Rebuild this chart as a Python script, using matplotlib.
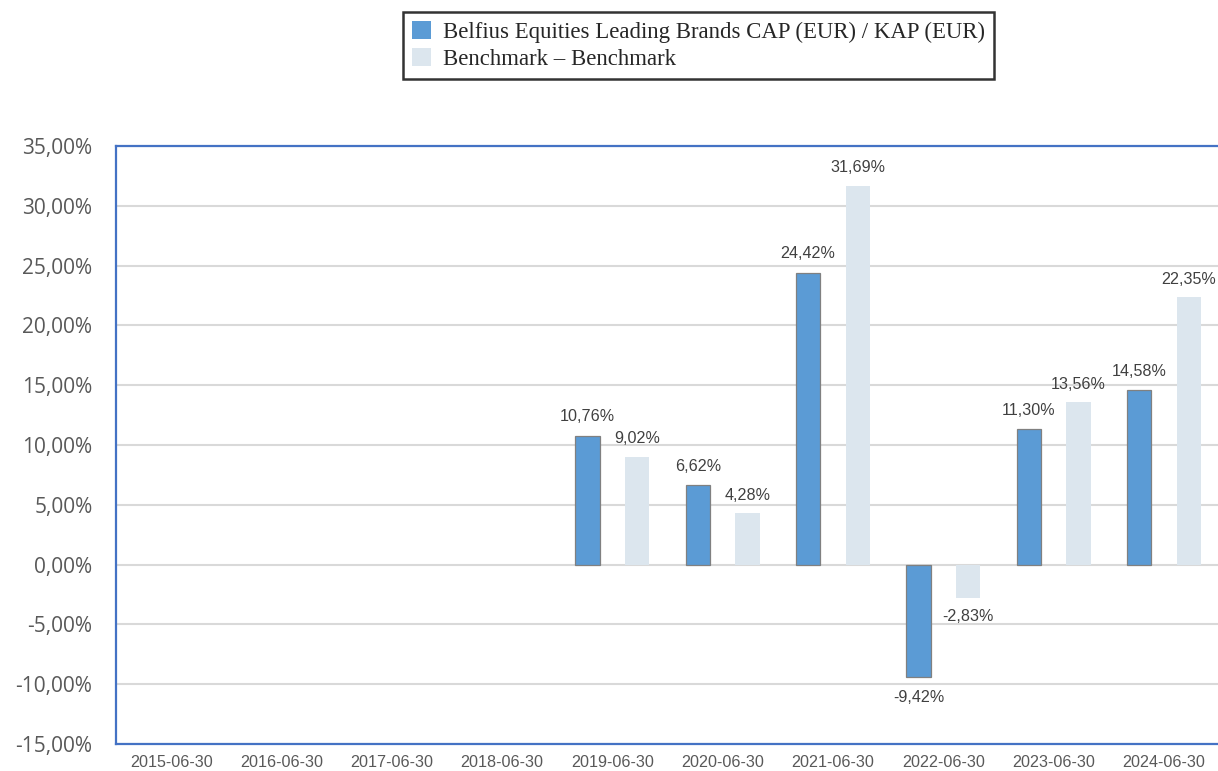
import matplotlib
matplotlib.use("Agg")
import matplotlib.pyplot as plt
import numpy as np
from matplotlib.patches import Patch

categories = ["2015-06-30", "2016-06-30", "2017-06-30", "2018-06-30", "2019-06-30",
              "2020-06-30", "2021-06-30", "2022-06-30", "2023-06-30", "2024-06-30"]
fund = [np.nan, np.nan, np.nan, np.nan, 10.76, 6.62, 24.42, -9.42, 11.30, 14.58]
bench = [np.nan, np.nan, np.nan, np.nan, 9.02, 4.28, 31.69, -2.83, 13.56, 22.35]
yticks = [-15, -10, -5, 0, 5, 10, 15, 20, 25, 30, 35]
fund_name = "Belfius Equities Leading Brands CAP (EUR) / KAP (EUR)"
bench_name = "Benchmark \u2013 Benchmark"

def fmt(v):
    return f"{v:.2f}".replace(".", ",") + "%"

fig = plt.figure(figsize=(12.18, 7.71), dpi=100)
ax = fig.add_axes([116/1218, 27/771, 1103/1218, 598/771])

x = np.arange(len(categories))
off = 0.225
w = 0.22
dark = "#5B9BD5"
light = "#DCE6EE"
ax.bar(x - off, fund, width=w, color=dark, edgecolor="#808080", linewidth=0.9, zorder=3)
ax.bar(x + off, bench, width=w, color=light, edgecolor="none", zorder=3)

for xi, v in zip(x - off, fund):
    if not np.isnan(v):
        ax.annotate(fmt(v), (xi, v), xytext=(0, 19 if v >= 0 else -20), textcoords="offset pixels",
                    ha="center", va="center", fontsize=11.6, color="#404040",
                    family="Liberation Sans")
for xi, v in zip(x + off, bench):
    if not np.isnan(v):
        ax.annotate(fmt(v), (xi, v), xytext=(0, 18 if v >= 0 else -18), textcoords="offset pixels",
                    ha="center", va="center", fontsize=11.6, color="#404040",
                    family="Liberation Sans")

ax.set_xlim(-0.5, len(categories) - 0.5)
ax.set_ylim(-15, 35)
ax.set_yticks(yticks)
ax.set_yticklabels([f"{t:.2f}".replace(".", ",") + "%" for t in yticks],
                   fontsize=15, color="#595959", family="Open Sans")
ax.set_xticks(x)
ax.set_xticklabels(categories, fontsize=11.6, color="#595959", family="Liberation Sans")
ax.tick_params(axis="y", length=0, pad=17)
ax.tick_params(axis="x", length=0, pad=8)
ax.grid(axis="y", color="#d9d9d9", linewidth=1.5, zorder=0)
ax.set_axisbelow(True)
for s in ["left", "top", "bottom"]:
    ax.spines[s].set_color("#4472C4")
    ax.spines[s].set_linewidth(1.6)
ax.spines["right"].set_visible(False)

handles = [Patch(facecolor=dark, edgecolor="none"), Patch(facecolor=light, edgecolor="none")]
leg = fig.legend(handles, [fund_name, bench_name], loc="upper left",
                 bbox_to_anchor=(403/1218, 1 - 12/771), prop={"family": "Liberation Serif", "size": 16.4},
                 frameon=True, fancybox=False, handlelength=0.85, handleheight=0.85,
                 handletextpad=0.5, borderpad=0.4, labelspacing=0.2, borderaxespad=0)
leg.get_frame().set_edgecolor("black")
leg.get_frame().set_linewidth(1.8)
for t in leg.get_texts():
    t.set_color("#262626")

fig.savefig("out.png", dpi=100)
